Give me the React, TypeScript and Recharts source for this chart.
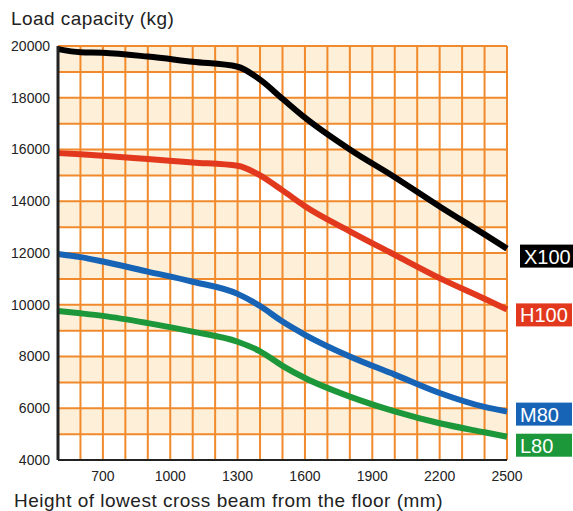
import React from 'react';
import {
  LineChart,
  Line,
  XAxis,
  YAxis,
  ReferenceArea,
  ReferenceLine,
  LabelList
} from 'recharts';

// beam height (mm) and load capacity (kg)
const heights = [500, 600, 700, 900, 1100, 1300, 1400, 1500, 1600, 1800, 2000, 2200, 2400, 2500];
const x100 = [19880, 19760, 19740, 19590, 19390, 19200, 18700, 17960, 17230, 16000, 14930, 13800, 12720, 12170];
const h100 = [15860, 15815, 15760, 15630, 15500, 15370, 15000, 14420, 13810, 12840, 11930, 11030, 10230, 9820];
const m80 = [11960, 11840, 11670, 11280, 10890, 10420, 9950, 9350, 8840, 8000, 7300, 6590, 6050, 5870];
const l80 = [9760, 9670, 9570, 9290, 8960, 8570, 8200, 7640, 7170, 6450, 5880, 5420, 5070, 4900];

const xTicks = [700, 1000, 1300, 1600, 1900, 2200, 2500];
const yTicks = [4000, 6000, 8000, 10000, 12000, 14000, 16000, 18000, 20000];

const FONT = '"Liberation Sans", Arial, Helvetica, sans-serif';
const GRID = '#F08A2C';
const BAND = '#FDEFD8';

const series = [
  { key: 'x100', name: 'X100', color: '#000000', dx: 13, dy: -4 },
  { key: 'h100', name: 'H100', color: '#E2391E', dx: 9, dy: -6 },
  { key: 'm80', name: 'M80', color: '#1763B5', dx: 9, dy: -9 },
  { key: 'l80', name: 'L80', color: '#1C973A', dx: 9, dy: -3 }
];

const data = heights.map((h, i) => ({
  height: h,
  x100: x100[i],
  h100: h100[i],
  m80: m80[i],
  l80: l80[i]
}));

// grid every 100 mm / 1000 kg, shaded band under every even thousand
const vLines: number[] = [];
for (let v = 600; v <= 2500; v += 100) vLines.push(v);
const hLines: number[] = [];
for (let v = 5000; v <= 20000; v += 1000) hLines.push(v);
const bands: number[] = [];
for (let v = 6000; v <= 20000; v += 2000) bands.push(v);

const makeEndLabel = (s: typeof series[number]) => (props: any) => {
  const { x, y, index } = props;
  if (index !== data.length - 1) return null;
  const bx = Number(x) + s.dx;
  const by = Number(y) + s.dy;
  return (
    <g>
      <rect x={bx} y={by} width={56} height={23} fill={s.color} />
      <text
        x={bx + 4}
        y={by + 19}
        fill="#fff"
        fontSize={20}
        fontFamily={FONT}
      >
        {s.name}
      </text>
    </g>
  );
};

export default function App() {
  return (
    <div style={{ position: 'absolute', left: 0, top: 0, width: 573, height: 511, background: '#fff', fontFamily: FONT }}>
      <div
        style={{
          position: 'absolute',
          left: 11,
          top: 9,
          fontSize: 19,
          lineHeight: '19px',
          letterSpacing: 0.45,
          color: '#222',
          whiteSpace: 'nowrap'
        }}
      >
        Load capacity (kg)
      </div>
      <LineChart
        width={573}
        height={511}
        data={data}
        margin={{ top: 46, right: 66, bottom: 0, left: 0 }}
      >
        {bands.map(v => (
          <ReferenceArea key={'b' + v} y1={v - 1000} y2={v} fill={BAND} fillOpacity={1} stroke="none" />
        ))}
        {vLines.map(v => (
          <ReferenceLine key={'v' + v} x={v} stroke={GRID} strokeWidth={2} />
        ))}
        {hLines.map(v => (
          <ReferenceLine key={'h' + v} y={v} stroke={GRID} strokeWidth={2} />
        ))}
        <XAxis
          dataKey="height"
          type="number"
          domain={[500, 2500]}
          ticks={xTicks}
          height={51}
          tickLine={false}
          tickMargin={5}
          axisLine={{ stroke: '#222', strokeWidth: 2 }}
          tick={{ fill: '#222', fontSize: 14, fontFamily: FONT }}
          interval={0}
        />
        <YAxis
          type="number"
          domain={[4000, 20000]}
          ticks={yTicks}
          width={58}
          tickLine={false}
          axisLine={{ stroke: '#222', strokeWidth: 3 }}
          tick={{ fill: '#222', fontSize: 14, fontFamily: FONT }}
          interval={0}
        />
        {series.map(s => (
          <Line
            key={s.key}
            type="monotone"
            dataKey={s.key}
            stroke={s.color}
            strokeWidth={6}
            dot={false}
            isAnimationActive={false}
          >
            <LabelList dataKey={s.key} content={makeEndLabel(s)} />
          </Line>
        ))}
      </LineChart>
      <div
        style={{
          position: 'absolute',
          left: 14,
          top: 491,
          fontSize: 19,
          lineHeight: '19px',
          letterSpacing: 0.5,
          color: '#222',
          whiteSpace: 'nowrap'
        }}
      >
        Height of lowest cross beam from the floor (mm)
      </div>
    </div>
  );
}
